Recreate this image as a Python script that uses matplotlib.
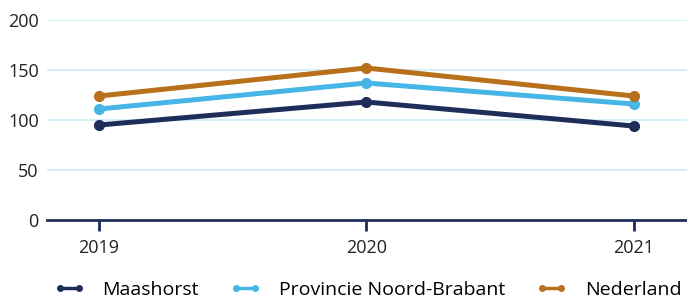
import matplotlib.pyplot as plt
from matplotlib.lines import Line2D

# data
jaren = ['2019', '2020', '2021']
maashorst = [95, 118, 94]
brabant = [111, 137, 116]
nederland = [124, 152, 124]

series = ['Maashorst', 'Provincie Noord-Brabant', 'Nederland']
kleuren = ['#1f2d5a', '#45b6e6', '#b8701a']

plt.rcParams['font.family'] = ['Open Sans', 'DejaVu Sans']

fig = plt.figure(figsize=(6.87, 3.0), dpi=100)
ax = fig.add_axes([47/687, 80/300, 640/687, 200/300])

x = range(len(jaren))
for waarden, kleur in zip([maashorst, brabant, nederland], kleuren):
    ax.plot(x, waarden, color=kleur, lw=3.6, marker='o', ms=7, zorder=3)

ax.set_ylim(0, 200)
ax.set_xlim(-0.195, 2.2)
ax.set_yticks([0, 50, 100, 150, 200])
ax.set_xticks(list(x))
ax.set_xticklabels(jaren)

# grid
for y in [50, 100, 150, 200]:
    ax.axhline(y, color='#d6eef8', lw=1.5, zorder=1)

for s in ['left', 'right', 'top']:
    ax.spines[s].set_visible(False)
ax.spines['bottom'].set_color('#1f2d5a')
ax.spines['bottom'].set_linewidth(2)
ax.spines['bottom'].set_zorder(4)

ax.tick_params(axis='y', length=0, pad=6, labelsize=13, labelcolor='#222222')
ax.tick_params(axis='x', length=8, width=2, color='#1f2d5a', pad=6,
               labelsize=13, labelcolor='#222222')

handles = [Line2D([0], [0], color=k, lw=2.5, marker='o', ms=4) for k in kleuren]
fig.legend(handles, series, loc='lower center', bbox_to_anchor=(0.535, -0.055),
           ncol=3, frameon=False, fontsize=14, numpoints=2, handlelength=1.6,
           columnspacing=1.6, handletextpad=0.9)

fig.savefig('out.png', dpi=100)
